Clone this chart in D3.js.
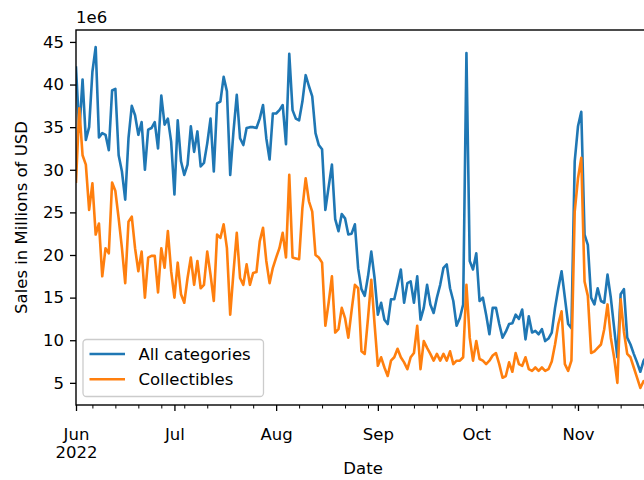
<!DOCTYPE html>
<html>
<head>
<meta charset="utf-8">
<script src="https://cdn.jsdelivr.net/npm/d3@7"></script>
<style>
  body { margin: 0; background: #ffffff; }
  svg text { font-family: "DejaVu Sans", "Liberation Sans", sans-serif; fill: #000; }
</style>
</head>
<body>
<svg id="chart" width="644" height="480"></svg>
<script>
// Daily sales, starting 2022-06-01, values in millions of USD
const startDate = "2022-06-01";

const allCategories = [
  42.0, 34.5, 40.6, 33.5, 35.0, 41.5, 44.4, 33.8, 34.3, 34.1,
  32.3, 39.3, 39.5, 31.7, 29.8, 26.5, 33.7, 37.5, 36.4, 34.1,
  35.6, 30.0, 34.7, 34.9, 35.6, 32.5, 38.7, 35.3, 36.0, 33.3,
  27.1, 35.8, 31.0, 29.4, 30.6, 35.1, 32.1, 34.5, 30.4, 30.8,
  33.1, 36.0, 29.8, 37.8, 38.0, 40.9, 39.2, 29.4, 34.5, 38.8,
  33.7, 32.9, 34.9, 35.0, 35.0, 34.9, 36.0, 37.6, 33.7, 31.2,
  36.6, 36.6, 37.0, 37.6, 33.0, 43.6, 37.0, 36.0, 35.8, 38.0,
  41.1, 39.8, 38.6, 34.3, 32.9, 32.4, 25.3, 28.0, 30.6, 24.2,
  22.8, 24.8, 24.3, 22.4, 22.5, 23.6, 18.4, 16.0, 15.2, 17.5,
  20.4, 17.3, 13.0, 14.4, 12.4, 11.9, 14.8, 14.8, 16.5, 18.3,
  14.4, 16.7, 16.9, 14.4, 17.5, 12.4, 13.8, 16.5, 14.2, 13.2,
  15.0, 16.5, 18.5, 18.9, 16.1, 14.6, 11.7, 12.6, 14.2, 43.7,
  19.3, 18.3, 20.2, 14.6, 15.0, 13.0, 10.7, 13.8, 13.8, 11.9,
  10.3, 11.0, 11.9, 12.0, 13.0, 12.5, 13.6, 10.1, 12.8, 10.9,
  11.1, 10.7, 11.3, 9.9, 10.2, 10.9, 13.8, 16.1, 18.1, 15.0,
  11.9, 11.4, 31.0, 35.1, 36.8, 22.4, 21.2, 15.0, 14.2, 16.1,
  14.6, 14.4, 17.7, 15.0, 11.5, 8.0, 15.4, 16.0, 10.3, 9.5,
  8.4, 7.4, 6.3, 7.6, 8.2, 7.0
];

const collectibles = [
  28.6, 37.2, 31.7, 30.6, 25.3, 28.4, 22.4, 23.7, 17.5, 20.8,
  20.2, 28.5, 27.5, 24.3, 20.8, 16.7, 23.9, 24.5, 20.8, 18.1,
  20.4, 15.0, 19.7, 19.9, 19.9, 15.6, 20.8, 18.5, 22.8, 18.1,
  15.0, 19.1, 15.4, 14.4, 17.3, 19.7, 16.5, 19.3, 16.1, 16.5,
  20.4, 17.7, 14.6, 22.4, 22.0, 23.6, 20.8, 13.0, 18.0, 22.6,
  17.3, 16.5, 18.9, 16.5, 17.9, 18.0, 21.6, 23.2, 19.3, 16.7,
  18.5, 19.7, 20.8, 22.6, 19.7, 29.4, 19.7, 19.6, 19.5, 25.5,
  29.0, 26.3, 25.1, 20.0, 19.7, 19.1, 11.7, 14.4, 17.5, 10.9,
  11.3, 13.8, 12.6, 10.3, 13.5, 16.5, 16.1, 8.7, 8.4, 12.6,
  17.1, 11.9, 7.0, 8.0, 6.8, 5.8, 7.6, 8.0, 9.0, 8.0,
  7.4, 6.6, 8.0, 8.5, 11.7, 6.6, 9.9, 9.1, 8.4, 7.6,
  8.4, 7.6, 8.4, 7.6, 8.7, 7.2, 7.6, 7.6, 8.0, 16.5,
  10.3, 7.6, 9.9, 7.8, 7.6, 7.2, 7.6, 8.2, 8.5, 7.2,
  5.6, 5.8, 7.4, 6.3, 8.5, 7.2, 7.0, 8.0, 6.6, 6.4,
  6.8, 6.4, 6.8, 6.4, 6.6, 7.5, 9.5, 11.9, 13.4, 7.2,
  6.4, 7.6, 25.1, 29.0, 31.4, 16.9, 15.2, 8.5, 8.7, 9.1,
  9.5, 11.3, 14.2, 10.3, 8.0, 5.0, 14.8, 11.0, 8.4, 8.0,
  6.8, 5.6, 4.4, 5.2, 4.8, 5.0
];

const seriesNames = ["All categories", "Collectibles"];
const seriesColors = ["#1f77b4", "#ff7f0e"];
const yTickValues = [5, 10, 15, 20, 25, 30, 35, 40, 45];
const yOffsetLabel = "1e6";
const yAxisTitle = "Sales in Millions of USD";
const xAxisTitle = "Date";

// ---- layout ----
const W = 644, H = 480;
const plotLeft = 76, plotTop = 30, plotBottom = 405;
const pxPerDay = 3.281;
const fontSize = 16.5;
const lineWidth = 2.6;

const svg = d3.select("#chart");

const parse = d3.utcParse("%Y-%m-%d");
const start = parse(startDate);
const dates = allCategories.map((_, i) => d3.utcDay.offset(start, i));
const end = dates[dates.length - 1];
const plotRight = plotLeft + pxPerDay * (dates.length - 1);

const x = d3.scaleUtc().domain([start, end]).range([plotLeft, plotRight]);

const allVals = allCategories.concat(collectibles);
const lo = d3.min(allVals), hi = d3.max(allVals);
const pad = (hi - lo) * 0.05;
const y = d3.scaleLinear().domain([lo - pad, hi + pad]).range([plotBottom, plotTop]);

// clip for the plotting area
svg.append("defs").append("clipPath").attr("id", "plotClip")
  .append("rect")
  .attr("x", plotLeft).attr("y", plotTop)
  .attr("width", plotRight - plotLeft).attr("height", plotBottom - plotTop);

// ---- series lines ----
const series = [allCategories, collectibles].map((vals, k) => ({
  name: seriesNames[k],
  color: seriesColors[k],
  points: vals.map((v, i) => ({ date: dates[i], value: v }))
}));

const line = d3.line().x(d => x(d.date)).y(d => y(d.value));

svg.append("g").attr("clip-path", "url(#plotClip)")
  .selectAll("path").data(series).join("path")
  .attr("d", d => line(d.points))
  .attr("fill", "none")
  .attr("stroke", d => d.color)
  .attr("stroke-width", lineWidth)
  .attr("stroke-linejoin", "round")
  .attr("stroke-linecap", "square");

// ---- axes ----
const styleAxis = g => {
  g.attr("font-size", null).attr("font-family", null);
  g.selectAll(".tick line").attr("stroke", "#000").attr("stroke-width", 1.3);
  g.selectAll(".tick text").attr("font-size", fontSize).attr("fill", "#000");
};

// y axis
const yAxis = svg.append("g")
  .attr("transform", `translate(${plotLeft},0)`)
  .call(d3.axisLeft(y).tickValues(yTickValues).tickSize(6).tickPadding(6).tickSizeOuter(0));
yAxis.call(styleAxis);
yAxis.select(".domain").remove();

// x axis: monthly major ticks
const monthTicks = d3.utcMonth.range(start, d3.utcDay.offset(end, 1));
const fmtMonth = d3.utcFormat("%b");
const xAxis = svg.append("g")
  .attr("transform", `translate(0,${plotBottom})`)
  .call(d3.axisBottom(x).tickValues(monthTicks).tickFormat(fmtMonth)
    .tickSize(6).tickPadding(6).tickSizeOuter(0));
xAxis.call(styleAxis);
xAxis.select(".domain").remove();
xAxis.selectAll(".tick text")
  .attr("dy", null)
  .attr("y", 35)
  .each(function (d, i) {
    if (i === 0) {
      d3.select(this).append("tspan")
        .attr("x", 0).attr("y", 53)
        .text(d3.utcFormat("%Y")(d));
    }
  });

// x axis: weekly minor ticks on Mondays
const monthKeys = new Set(monthTicks.map(d => +d));
const weekTicks = d3.utcMonday.range(start, d3.utcDay.offset(end, 1)).filter(d => !monthKeys.has(+d));
const xMinor = svg.append("g")
  .attr("transform", `translate(0,${plotBottom})`)
  .call(d3.axisBottom(x).tickValues(weekTicks).tickFormat("").tickSize(3.5).tickSizeOuter(0));
xMinor.select(".domain").remove();
xMinor.selectAll(".tick line").attr("stroke", "#000").attr("stroke-width", 1.0);

// frame (spines)
svg.append("rect")
  .attr("x", plotLeft).attr("y", plotTop)
  .attr("width", plotRight - plotLeft).attr("height", plotBottom - plotTop)
  .attr("fill", "none").attr("stroke", "#000").attr("stroke-width", 1.4);

// offset text and axis titles
svg.append("text")
  .attr("x", plotLeft).attr("y", 23)
  .attr("font-size", fontSize)
  .text(yOffsetLabel);

svg.append("text")
  .attr("transform", `translate(27,${(plotTop + plotBottom) / 2}) rotate(-90)`)
  .attr("text-anchor", "middle")
  .attr("font-size", fontSize)
  .text(yAxisTitle);

svg.append("text")
  .attr("x", (plotLeft + plotRight) / 2).attr("y", 474)
  .attr("text-anchor", "middle")
  .attr("font-size", fontSize)
  .text(xAxisTitle);

// ---- legend ----
const legend = svg.append("g").attr("transform", "translate(83,339.5)");
legend.append("rect")
  .attr("width", 180.5).attr("height", 57)
  .attr("rx", 3.5).attr("ry", 3.5)
  .attr("fill", "#ffffff").attr("fill-opacity", 0.8)
  .attr("stroke", "#cccccc").attr("stroke-width", 1.3);

const items = legend.selectAll("g.item").data(series).join("g")
  .attr("class", "item")
  .attr("transform", (d, i) => `translate(0,${14.5 + i * 25.3})`);
items.append("line")
  .attr("x1", 6.5).attr("x2", 42)
  .attr("stroke", d => d.color)
  .attr("stroke-width", lineWidth);
items.append("text")
  .attr("x", 55.5).attr("y", 6)
  .attr("font-size", fontSize)
  .text(d => d.name);
</script>
</body>
</html>
